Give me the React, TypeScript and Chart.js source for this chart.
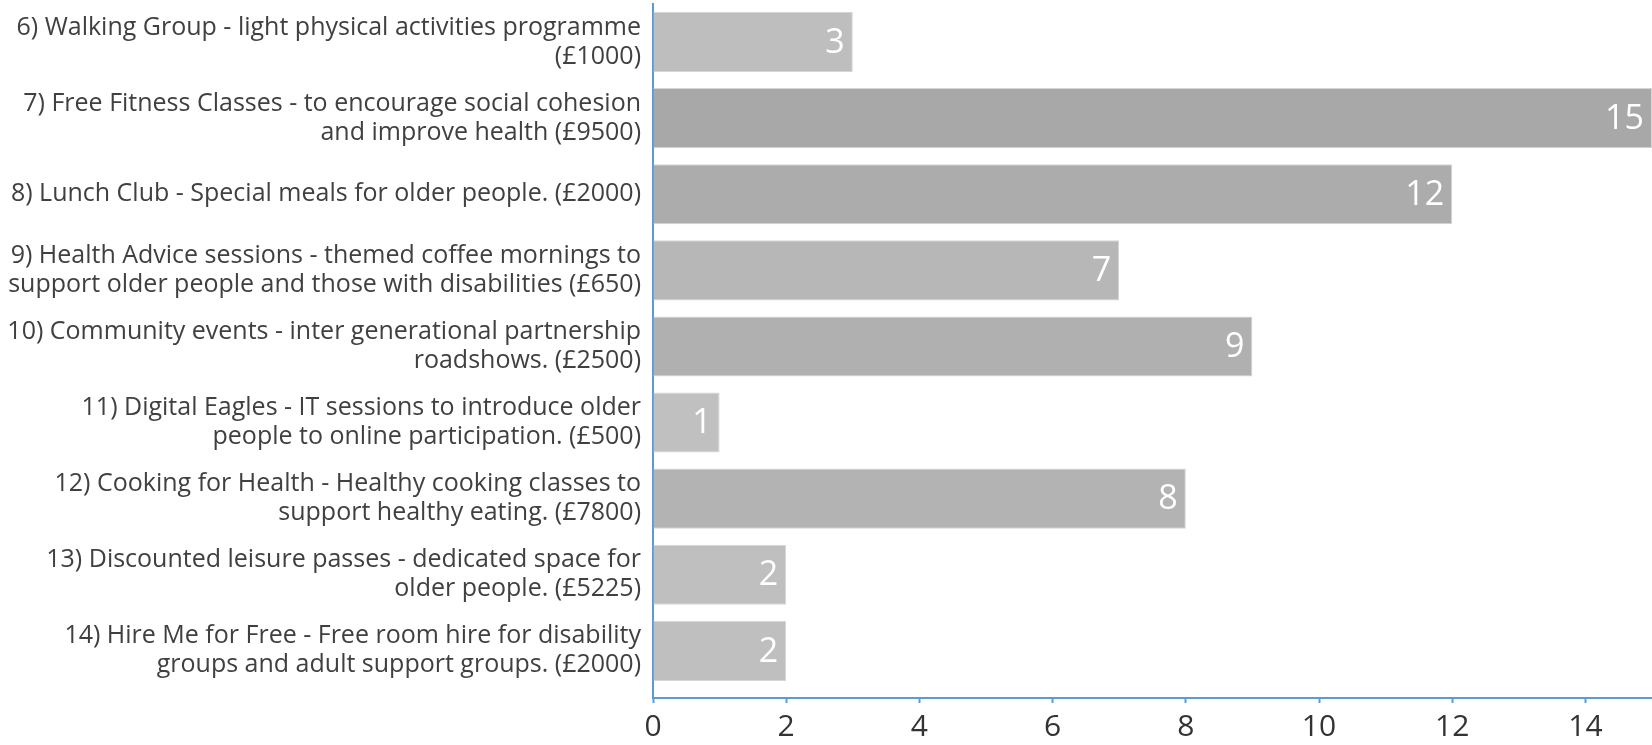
import React, { useEffect, useRef } from "react";
import { Chart, registerables } from "chart.js";

Chart.register(...registerables);

const categories: string[][] = [
  ["6) Walking Group - light physical activities programme", "(£1000)"],
  ["7) Free Fitness Classes - to encourage social cohesion", "and improve health (£9500)"],
  ["8) Lunch Club - Special meals for older people. (£2000)"],
  ["9) Health Advice sessions - themed coffee mornings to", "support older people and those with disabilities (£650)"],
  ["10) Community events - inter generational partnership", "roadshows. (£2500)"],
  ["11) Digital Eagles - IT sessions to introduce older", "people to online participation. (£500)"],
  ["12) Cooking for Health - Healthy cooking classes to", "support healthy eating. (£7800)"],
  ["13) Discounted leisure passes - dedicated space for", "older people. (£5225)"],
  ["14) Hire Me for Free - Free room hire for disability", "groups and adult support groups. (£2000)"],
];

const votes: number[] = [3, 15, 12, 7, 9, 1, 8, 2, 2];

const xTicks: number[] = [0, 2, 4, 6, 8, 10, 12, 14];

const barColors: string[] = [
  "#bebebe", "#a8a8a8", "#acacac", "#b7b7b7", "#b0b0b0",
  "#c0c0c0", "#b3b3b3", "#bfbfbf", "#bfbfbf",
];

const FONT = "'Open Sans', 'Source Sans Pro', Lato, sans-serif";
const AXIS_BLUE = "#5b9bd5";

const valueLabels = {
  id: "valueLabels",
  afterDatasetsDraw(chart: any) {
    const ctx = chart.ctx;
    const meta = chart.getDatasetMeta(0);
    ctx.save();
    ctx.fillStyle = "#ffffff";
    ctx.font = `34px ${FONT}`;
    ctx.textAlign = "right";
    ctx.textBaseline = "middle";
    meta.data.forEach((bar: any, i: number) => {
      ctx.fillText(String(votes[i]), bar.x - 8, bar.y + 1);
    });
    ctx.restore();
  },
};

export default function App() {
  const canvasRef = useRef<HTMLCanvasElement | null>(null);

  useEffect(() => {
    if (!canvasRef.current) return;
    const chart = new Chart(canvasRef.current, {
      type: "bar",
      data: {
        datasets: [
          {
            data: votes.map((v, i) => ({ x: v, y: i })),
            backgroundColor: barColors,
            borderColor: "#d6d6d6",
            borderWidth: 1,
            categoryPercentage: 1,
            barPercentage: 0.79,
          },
        ],
      },
      options: {
        indexAxis: "y",
        animation: false,
        responsive: true,
        maintainAspectRatio: false,
        layout: { padding: { top: 4, right: 0, left: 0, bottom: 0 } },
        plugins: {
          legend: { display: false },
          tooltip: { enabled: false },
        },
        scales: {
          x: {
            type: "linear",
            min: 0,
            max: 15,
            offset: false,
            afterFit: (scale: any) => {
              scale.height = 47;
              scale.paddingLeft = 0;
              scale.paddingRight = 0;
            },
            afterBuildTicks: (scale: any) => {
              scale.ticks = xTicks.map((v) => ({ value: v }));
            },
            ticks: {
              includeBounds: false,
              stepSize: 2,
              padding: 6,
              color: "#333333",
              font: { family: FONT, size: 30 },
            },
            grid: {
              offset: false,
              drawOnChartArea: false,
              drawTicks: true,
              tickLength: 5,
              tickWidth: 2,
              color: AXIS_BLUE,
            },
            border: { display: true, color: AXIS_BLUE, width: 2 },
          },
          y: {
            type: "linear",
            reverse: true,
            offset: false,
            min: -0.5,
            max: 8.62,
            afterFit: (scale: any) => {
              scale.width = 653;
              scale.paddingTop = 0;
              scale.paddingBottom = 0;
            },
            afterBuildTicks: (scale: any) => {
              scale.ticks = categories.map((_, i) => ({ value: i }));
            },
            ticks: {
              autoSkip: false,
              padding: 12,
              color: "#404040",
              font: { family: FONT, size: 25, lineHeight: 1.16 },
              callback: (value: any) => categories[Number(value)] ?? "",
            },
            grid: {
              offset: false,
              drawOnChartArea: false,
              drawTicks: false,
              color: "rgba(0,0,0,0)",
            },
            border: { display: true, color: AXIS_BLUE, width: 2 },
          },
        },
      },
      plugins: [valueLabels],
    });
    return () => chart.destroy();
  }, []);

  return (
    <div
      style={{
        position: "absolute",
        left: 0,
        top: 0,
        width: 1652,
        height: 745,
        background: "#ffffff",
      }}
    >
      <canvas ref={canvasRef} />
    </div>
  );
}
